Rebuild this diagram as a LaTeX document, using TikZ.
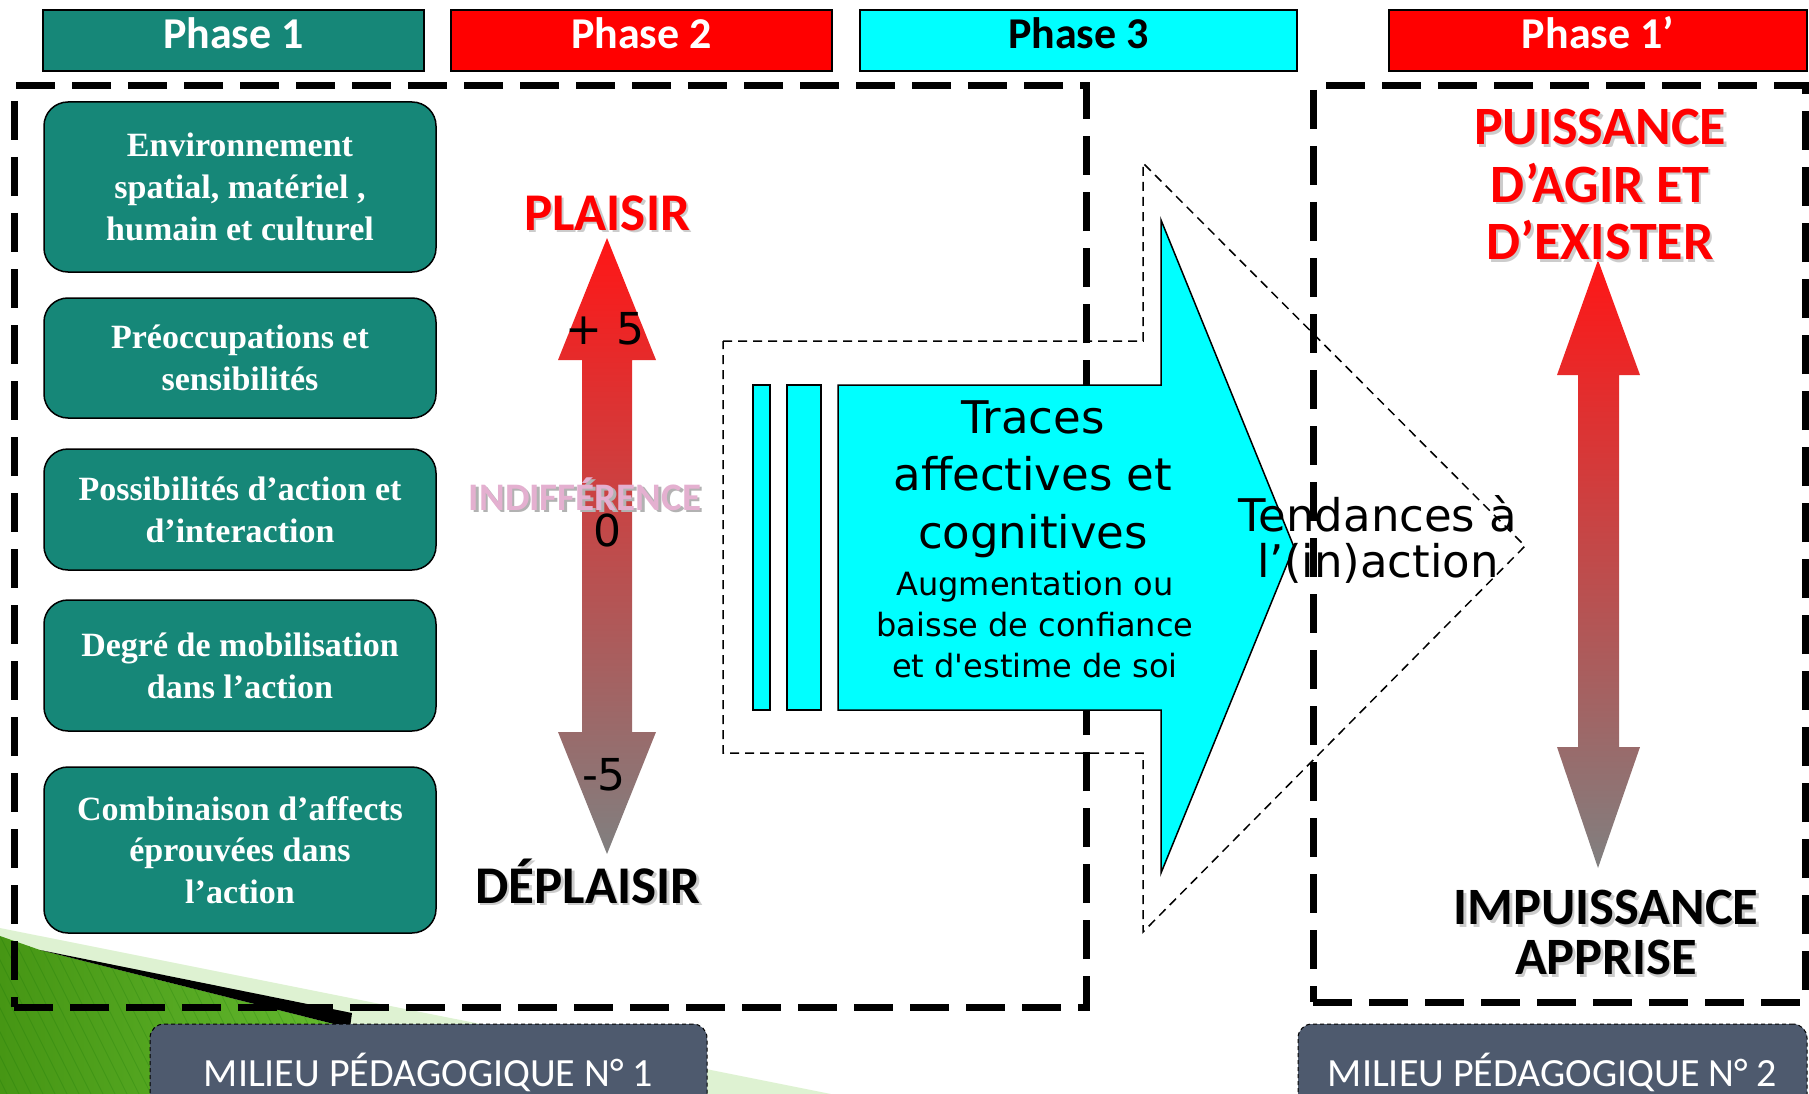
\documentclass[tikz,border=0pt]{standalone}
\usepackage{fontspec}
\setmainfont{Carlito}
\newfontfamily\serifb{Liberation Serif}
\newfontfamily\dejavu{DejaVu Sans}
\definecolor{teal1}{RGB}{22,135,120}
\definecolor{slate}{RGB}{78,90,110}
\definecolor{pinkind}{RGB}{228,176,208}
\definecolor{cyanA}{RGB}{0,255,255}
\definecolor{redA}{RGB}{255,0,0}
\definecolor{arrtop}{RGB}{255,22,22}
\definecolor{arrmid}{RGB}{210,86,86}
\definecolor{arrbot}{RGB}{128,128,128}
\definecolor{palegreen}{RGB}{222,242,210}
\definecolor{greenD}{RGB}{70,150,20}
\definecolor{greenL}{RGB}{125,215,70}
\newcommand\fsz[2]{\fontsize{#1}{#2}\selectfont}
\begin{document}
\begin{tikzpicture}[x=1pt,y=-1pt,
  phasebox/.style={draw=black,line width=1.5pt,minimum height=61pt,inner sep=0pt},
  phasetext/.style={font=\bfseries\fsz{44}{50},anchor=base,inner sep=0pt},
  greenbox/.style={draw=black,line width=1.5pt,fill=teal1,rounded corners=24pt,minimum width=392pt,inner sep=0pt,text=white,align=center,font=\serifb\bfseries\fsz{34}{41.7}},
  bigdash/.style={draw=black,line width=7pt,dash pattern=on 39pt off 17pt,inner sep=0pt},
  thindash/.style={draw=black,line width=1.5pt,dash pattern=on 9pt off 6pt},
  cyanshape/.style={draw=black,line width=1.5pt,fill=cyanA},
  milieu/.style={draw=black,line width=1pt,dash pattern=on 4pt off 3pt,fill=slate,rounded corners=14pt,minimum height=96pt,text=white,font=\fsz{40}{44},inner sep=0pt},
  biglabel/.style={font=\bfseries\fsz{53}{57.5},align=center,inner sep=0pt},
  numlabel/.style={font=\dejavu\fsz{44}{48},anchor=base,inner sep=0pt},
  shadowtxt/.style={text=black!20}
]
\useasboundingbox (0,0) rectangle (1809,1094);
\clip (0,0) rectangle (1809,1094);

% background decoration (bottom left)
\fill[palegreen] (0,928) -- (831,1094) -- (0,1094) -- cycle;
\shade[left color=greenD,right color=greenL] (0,936) -- (40,950) -- (350,1028) -- (640,1094) -- (0,1094) -- cycle;
\begin{scope}
  \clip (0,936) -- (40,950) -- (350,1028) -- (640,1094) -- (0,1094) -- cycle;
  \foreach \i in {-200,-188,...,640}
    \draw[black!60!green,opacity=0.18,line width=0.8pt] (\i,920) -- ++(90,180);
\end{scope}
\fill[black] (40,950) -- (352,1013) -- (350,1028) -- cycle;

% phase headers
\node[phasebox,fill=teal1,minimum width=381pt] (p1) at (233.5,40.5) {};
\node[phasetext,text=white] (p1t) at (233.5,49) {Phase 1};
\node[phasebox,fill=redA,minimum width=381pt] (p2) at (641.5,40.5) {};
\node[phasetext,text=white] (p2t) at (641.5,49) {Phase 2};
\node[phasebox,fill=cyanA,minimum width=437pt] (p3) at (1078.5,40.5) {};
\node[phasetext,text=black] (p3t) at (1078.5,49) {Phase 3};
\node[phasebox,fill=redA,minimum width=418pt] (p4) at (1598,40.5) {};
\node[phasetext,text=white] (p4t) at (1598,49) {Phase 1’};

% dashed zones
\node[bigdash,minimum width=1072pt,minimum height=921pt] (zone1) at (550,546.5) {};
\node[bigdash,minimum width=492pt,minimum height=916pt] (zone2) at (1559,544) {};

% green boxes
\node[greenbox,minimum height=170pt] (g1) at (240,187) {Environnement\\spatial, matériel ,\\humain et culturel};
\node[greenbox,minimum height=120pt] (g2) at (240,358) {Préoccupations et\\sensibilités};
\node[greenbox,minimum height=121pt] (g3) at (240,509.5) {Possibilités d’action et\\d’interaction};
\node[greenbox,minimum height=131pt] (g4) at (240,665.5) {Degré de mobilisation\\dans l’action};
\node[greenbox,minimum height=166pt] (g5) at (240,850) {Combinaison d’affects\\éprouvées dans\\l’action};

% left double arrow
\shade[top color=arrtop,middle color=arrmid,bottom color=arrbot]
  (607,238) -- (656,360) -- (632,360) -- (632,732) -- (656,732) -- (607,854)
  -- (558,732) -- (582,732) -- (582,360) -- (558,360) -- cycle;
\node[biglabel,anchor=base,shadowtxt] at (609.5,232.5) {PLAISIR};
\node[biglabel,anchor=base,text=redA] (plaisir) at (607,230) {PLAISIR};
\node[numlabel] (plus5) at (605,344) {+ 5};
\node[font=\bfseries\fsz{39}{44},anchor=base,inner sep=0pt,text=black!30] at (587.5,512.5) {INDIFFÉRENCE};
\node[font=\bfseries\fsz{39}{44},anchor=base,inner sep=0pt,text=pinkind] (indiff) at (585,510) {INDIFFÉRENCE};
\node[numlabel] (zero) at (607,546) {0};
\node[numlabel] (minus5) at (604,790) {-5};
\node[biglabel,anchor=base,shadowtxt] at (590.5,905.5) {DÉPLAISIR};
\node[biglabel,anchor=base,text=black] (deplaisir) at (588,903) {DÉPLAISIR};

% dashed outline arrow
\draw[thindash] (723,341) -- (1143,341) -- (1143,163) -- (1525,546) -- (1143,932) -- (1143,753) -- (723,753) -- cycle;

% cyan arrow
\draw[cyanshape] (753,385) rectangle (770,710);
\draw[cyanshape] (787,385) rectangle (821,710);
\draw[cyanshape] (838,385) -- (1161,385) -- (1161,220) -- (1294,547) -- (1161,873) -- (1161,710) -- (838,710) -- cycle;
\node[font=\dejavu\fsz{45}{57.5},align=center,inner sep=0pt] (traces) at (1033,479) {Traces\\affectives et\\cognitives};
\node[font=\dejavu\fsz{32}{41},align=center,inner sep=0pt] (augm) at (1035,625) {Augmentation ou\\baisse de confiance\\et d'estime de soi};
\node[font=\dejavu\fsz{45}{46},align=center,inner sep=0pt] (tend) at (1378,539) {Tendances à\\l’(in)action};

% right double arrow
\shade[top color=arrtop,middle color=arrmid,bottom color=arrbot]
  (1598,260) -- (1640,375) -- (1619,375) -- (1619,747) -- (1640,747) -- (1598,868)
  -- (1557,747) -- (1578,747) -- (1578,375) -- (1557,375) -- cycle;
\node[font=\bfseries\fsz{54}{57.5},align=center,inner sep=0pt,shadowtxt] at (1602.5,187) {PUISSANCE\\D’AGIR ET\\D’EXISTER};
\node[font=\bfseries\fsz{54}{57.5},align=center,inner sep=0pt,text=redA] (puiss) at (1600,184.5) {PUISSANCE\\D’AGIR ET\\D’EXISTER};
\node[font=\bfseries\fsz{52.5}{50},align=center,inner sep=0pt,shadowtxt] at (1608.5,935) {IMPUISSANCE\\APPRISE};
\node[font=\bfseries\fsz{52.5}{50},align=center,inner sep=0pt,text=black] (impuiss) at (1606,932.5) {IMPUISSANCE\\APPRISE};

% milieu boxes
\node[milieu,minimum width=557pt] (m1) at (428.5,1072) {MILIEU PÉDAGOGIQUE N° 1};
\node[milieu,minimum width=509pt] (m2) at (1552.5,1072) {MILIEU PÉDAGOGIQUE N° 2};
\end{tikzpicture}
\end{document}
